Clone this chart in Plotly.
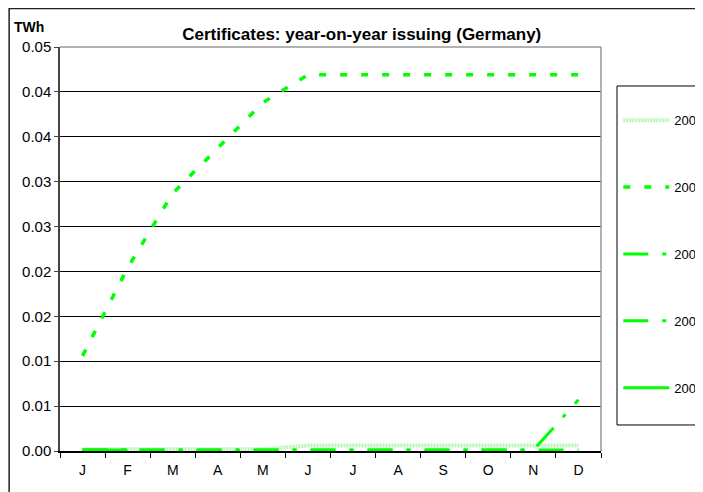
import plotly.graph_objects as go

months = ["J", "F", "M", "A", "M ", "J ", "J  ", "A ", "S", "O", "N", "D"]
month_labels = ["J", "F", "M", "A", "M", "J", "J", "A", "S", "O", "N", "D"]

y2002 = [0.0002, 0.0002, 0.0002, 0.0002, 0.0002, 0.0006, 0.0006, 0.0006, 0.0006, 0.0006, 0.0006, 0.0006]
y2003 = [0.0106, 0.0204, 0.0287, 0.0337, 0.0388, 0.0419, 0.0419, 0.0419, 0.0419, 0.0419, 0.0419, 0.0419]
y2004 = [0.0001, 0.0001, 0.0001, 0.0001, 0.0001, 0.0001, 0.0001, 0.0001, 0.0001, 0.0001, 0.0001, 0.0001]
y2005 = [0.0001, 0.0001, 0.0001, 0.0001, 0.0001, 0.0001, 0.0001, 0.0001, 0.0001, 0.0001, 0.0001, 0.0057]
y2006 = [0.0001, 0.0001]

ytick_vals = [0, 0.005, 0.01, 0.015, 0.02, 0.025, 0.03, 0.035, 0.04, 0.045]
ytick_text = ["0.00", "0.01", "0.01", "0.02", "0.02", "0.03", "0.03", "0.04", "0.04", "0.05"]

green = "#00FF00"

fig = go.Figure()

# one legend group per series so the gaps between entries can be widened
fig.add_trace(go.Scatter(x=months, y=y2002, mode="lines", name="2002", legendgroup="a",
                         line=dict(color="#B3F7B3", width=4, dash="2px,1px")))
fig.add_trace(go.Scatter(x=months, y=y2003, mode="lines", name="2003", legendgroup="b",
                         line=dict(color=green, width=3.5, dash="7px,14px")))
fig.add_trace(go.Scatter(x=months, y=y2004, mode="lines", name="2004", legendgroup="c",
                         line=dict(color=green, width=3, dash="25px,14px,4px,14px")))
fig.add_trace(go.Scatter(x=months, y=y2005, mode="lines", name="2005", legendgroup="d",
                         line=dict(color=green, width=3, dash="25px,14px,4px,14px")))
fig.add_trace(go.Scatter(x=months[:len(y2006)], y=y2006, mode="lines", name="2006", legendgroup="e",
                         line=dict(color=green, width=3)))

# outer chart border, legend box and grey plot-area edges
fig.add_shape(type="rect", xref="paper", yref="paper", x0=-0.094, x1=1.4, y0=-0.4, y1=1.095,
              line=dict(color="#222222", width=1.5), layer="below")
fig.add_shape(type="rect", xref="paper", yref="paper", x0=1.0296, x1=1.4, y0=0.0644, y1=0.9035,
              line=dict(color="black", width=1), fillcolor="white", layer="below")
fig.add_shape(type="line", xref="paper", yref="paper", x0=1, x1=1, y0=0, y1=1,
              line=dict(color="#999999", width=1.5))
fig.add_shape(type="line", xref="paper", yref="paper", x0=0, x1=1, y0=1, y1=1,
              line=dict(color="#999999", width=1.5))

fig.add_annotation(text="<b>TWh</b>", xref="paper", yref="paper", x=-0.089, y=1.075,
                   xanchor="left", yanchor="top", showarrow=False,
                   font=dict(size=14, color="black"))

fig.update_layout(
    width=695, height=484,
    margin=dict(l=52, r=102, t=39, b=41, autoexpand=False),
    paper_bgcolor="white", plot_bgcolor="white",
    font=dict(family="Liberation Sans, Arial", size=14, color="black"),
    title=dict(text="<b>Certificates: year-on-year issuing (Germany)</b>",
               x=0.509, xanchor="center", y=0.946, yanchor="middle",
               font=dict(size=17, color="black")),
    showlegend=True,
    legend=dict(x=1.032, xanchor="left", y=0.856, yanchor="top",
                borderwidth=0, bgcolor="rgba(0,0,0,0)",
                tracegroupgap=47, itemwidth=46,
                font=dict(size=13, color="black")),
    xaxis=dict(range=[-0.5, 11.5], tickmode="array", tickvals=months, ticktext=month_labels,
               tickson="boundaries", ticks="outside", ticklen=5, tickcolor="black",
               ticklabelstandoff=5,
               showline=True, linecolor="black", linewidth=1.5, showgrid=False,
               tickfont=dict(size=14), fixedrange=True),
    yaxis=dict(range=[0, 0.045], tickmode="array", tickvals=ytick_vals, ticktext=ytick_text,
               ticks="outside", ticklen=4, tickcolor="#444444",
               showline=True, linecolor="#444444", linewidth=1.5,
               showgrid=True, gridcolor="black", gridwidth=1, zeroline=False,
               tickfont=dict(size=15)),
)

fig.write_html("out.html")
